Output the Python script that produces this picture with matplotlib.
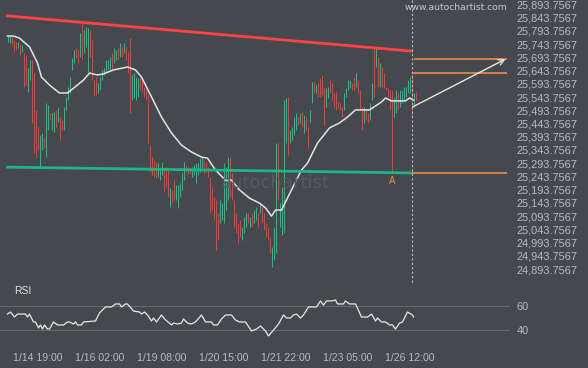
import matplotlib.pyplot as plt
from matplotlib.transforms import blended_transform_factory

# ---------------- data (hourly bars)

highs = [
    25774, 25774, 25770, 25759, 25751, 25751, 25744, 25740, 25710, 25702,
    25653, 25683, 25683, 25634, 25495, 25430, 25400, 25408, 25393, 25521,
    25514, 25483, 25483, 25487, 25495, 25506, 25468, 25457, 25506, 25544,
    25581, 25619, 25691, 25721, 25729, 25721, 25785, 25823, 25797, 25808,
    25804, 25797, 25759, 25608, 25619, 25597, 25619, 25646, 25653, 25683,
    25683, 25695, 25710, 25729, 25721, 25733, 25748, 25733, 25748, 25733,
    25714, 25766, 25627, 25634, 25619, 25615,
    25615, 25608, 25581, 25570, 25551, 25362, 25317, 25306, 25298, 25294,
    25279, 25298, 25268, 25279, 25268, 25200, 25193, 25230, 25211, 25211,
    25219, 25257, 25298, 25287, 25279, 25276, 25279, 25287, 25294, 25294,
    25313, 25317, 25306, 25298, 25279, 25242, 25204, 25166, 25155, 25106,
    25155, 25143, 25294, 25279, 25317, 25313, 25257, 25155, 25106, 25068,
    25079, 25053, 25091, 25106, 25106, 25091, 25106, 25117, 25128, 25106,
    25143, 25128, 25106, 25068,
    25053, 25015, 24977, 25053, 25370, 25370, 25143, 25204, 25532, 25540,
    25544, 25419, 25430, 25468, 25483, 25468, 25483, 25487, 25476, 25468,
    25430, 25495, 25600, 25600, 25589, 25597, 25615, 25627, 25581, 25578,
    25581, 25608, 25597, 25559, 25563, 25525, 25521,
    25506, 25559, 25578, 25608, 25608, 25597, 25619, 25634, 25608, 25570,
    25506, 25506, 25495, 25483, 25521, 25597, 25729, 25729, 25695, 25672,
    25657, 25634, 25581, 25578, 25570, 25570, 25544, 25570, 25559, 25570,
    25570, 25581, 25581, 25608, 25619, 25634, 25559, 25563,
]
lows = [
    25751, 25748, 25740, 25714, 25721, 25729, 25702, 25714, 25581, 25589,
    25563, 25608, 25446, 25332, 25317, 25344, 25279, 25344, 25351, 25317,
    25419, 25457, 25419, 25412, 25430, 25449, 25381, 25419, 25419, 25495,
    25532, 25559, 25646, 25672, 25691, 25672, 25695, 25683, 25710, 25733,
    25638, 25695, 25608, 25551, 25551, 25559, 25570, 25608, 25627, 25634,
    25646, 25646, 25646, 25672, 25683, 25683, 25695, 25695, 25710, 25683,
    25634, 25483, 25532, 25540, 25532, 25544,
    25570, 25563, 25544, 25532, 25370, 25260, 25249, 25242, 25238, 25242,
    25230, 25249, 25185, 25204, 25166, 25128, 25143, 25155, 25155, 25125,
    25166, 25193, 25230, 25260, 25253, 25257, 25242, 25249, 25219, 25249,
    25260, 25276, 25257, 25260, 25242, 25109, 25117, 25079, 24966, 25004,
    25068, 25079, 25068, 25117, 25155, 25166, 25155, 25053, 25030, 24992,
    25015, 25004, 25030, 25053, 25068, 25053, 25053, 25068, 25079, 25053,
    25106, 25068, 25041, 25015,
    25004, 24955, 24902, 24928, 24955, 25155, 25053, 25023, 25030, 25370,
    25325, 25370, 25381, 25400, 25419, 25438, 25446, 25430, 25408, 25419,
    25351, 25449, 25521, 25559, 25559, 25544, 25544, 25551, 25438, 25506,
    25540, 25559, 25532, 25506, 25495, 25502, 25495,
    25468, 25495, 25544, 25570, 25578, 25570, 25570, 25581, 25559, 25495,
    25419, 25446, 25457, 25446, 25457, 25532, 25544, 25657, 25581, 25581,
    25581, 25578, 25570, 25544, 25495, 25257, 25468, 25483, 25495, 25506,
    25521, 25532, 25544, 25559, 25559, 25468, 25506, 25532,
]
# g = up bar, r = down bar
direction = ("ggrrrgrgrr" "ggrrrrggrg" "grggrgrrgg" "ggggrrgrgg" "grrrrggggg"
             "ggrggrgrgr" "rrgggg"
             "rrrrrrrrrg" "ggrrrgrrgg" "gggrrrgggg" "ggrrrrrrrr" "gggggrrrrr"
             "rgggrgrggr" "grrr"
             "rrgggrgggg" "rggggrgrgr" "rggrgrrrrg" "grrrrrr"
             "rggggrrgrr" "rgrrggrgrg" "rrrrrrggrg" "gggggrgr")

# moving average (white line)
ma_idx = [0, 3, 6, 11, 15, 17, 21, 26, 30, 35, 38, 41, 45, 48, 53, 60, 64, 67,
          72, 77, 82, 87, 92, 97, 100, 104, 109, 112, 116, 121, 126, 129, 132,
          134, 137, 142, 147, 150, 155, 161, 166, 170, 174, 181, 187, 189, 192,
          199, 201, 203]
ma_val = [25774, 25774, 25766, 25733, 25672, 25619, 25589, 25559, 25559, 25589,
          25608, 25634, 25627, 25631, 25646, 25657, 25646, 25619, 25544, 25468,
          25408, 25362, 25336, 25317, 25313, 25268, 25230, 25230, 25193, 25162,
          25143, 25125, 25094, 25117, 25117, 25193, 25268, 25294, 25370, 25427,
          25446, 25468, 25495, 25495, 25525, 25540, 25529, 25529, 25540, 25532]

# RSI
rsi_idx = [0, 1.5, 3.5, 5, 9, 10, 11, 13, 14, 15.5, 16.5, 17.5, 18.5, 20, 21,
           23, 25, 28, 30, 31, 33, 34, 35, 37, 38, 44, 46, 49, 52, 54, 56, 57,
           59, 60, 63, 66, 67, 68.5, 70, 72, 73, 74.5, 77, 78.5, 82, 83, 85, 87,
           88, 90, 92, 94, 97, 99, 102, 103, 105, 107, 109, 112, 114, 116, 119,
           122, 124.5, 126.5, 129, 130.5, 133, 135.5, 138, 139.5, 141.5, 143,
           144.5, 146.5, 148, 150.5, 154.5, 156.5, 158, 159.5, 162, 164, 165,
           168, 169, 171, 174, 177, 180, 182, 184, 185, 187, 189, 191, 192.5,
           194, 196, 197.5, 200, 202.5, 203]
rsi_val = [53.3, 55.0, 50.8, 53.3, 53.3, 50.8, 53.3, 46.7, 46.7, 41.7, 44.2,
           40.8, 44.2, 40.8, 40.8, 46.7, 44.2, 44.2, 46.7, 46.7, 45.0, 46.7,
           44.2, 44.2, 46.7, 47.5, 54.2, 59.2, 59.2, 61.7, 61.7, 59.2, 61.7,
           61.7, 55.8, 55.0, 53.3, 55.0, 52.5, 47.5, 50.0, 46.7, 52.5, 49.2,
           44.2, 45.8, 45.0, 45.8, 49.2, 45.8, 45.0, 46.7, 52.5, 46.7, 46.7,
           44.2, 44.2, 49.2, 52.5, 52.5, 48.3, 46.7, 46.7, 39.2, 40.8, 43.3,
           39.2, 35.0, 40.0, 45.0, 52.5, 50.0, 50.0, 52.5, 53.3, 50.0, 52.5,
           59.2, 59.2, 64.2, 60.8, 64.2, 64.2, 65.0, 61.7, 61.7, 64.2, 61.7,
           61.7, 50.8, 50.8, 53.3, 47.5, 50.0, 46.7, 46.7, 44.2, 44.2, 40.8,
           45.8, 46.7, 55.0, 52.5, 50.8]

# triangle pattern
resist_val = [25850, 25717]
support_val = [25279, 25257]
pattern_end = 202
point_a = 192
target_levels = [25687, 25634]
arrow_from = 25506
arrow_to = 25687

time_ticks = [15, 46, 77, 108, 139, 170, 201]
time_labels = ['1/14 19:00', '1/16 02:00', '1/19 08:00', '1/20 15:00',
               '1/21 22:00', '1/23 05:00', '1/26 12:00']
price_ticks = [25893.7567 - 50 * k for k in range(21)]
rsi_ticks = [40, 60]

# ---------------- styling

bg = '#45484d'
txt = '#b8bbc0'
green = '#17c487'
red = '#f63a3a'
orange = '#f08a4a'
font = 'Liberation Sans'

W, H = 588, 368
fig = plt.figure(figsize=(W / 100, H / 100), dpi=100, facecolor=bg)

ax = fig.add_axes([0, (H - 285) / H, 510 / W, 285 / H])
rsi = fig.add_axes([0, (H - 350) / H, 510 / W, 65 / H])

# 2 px per hourly bar, bar centres on pixel centres
xmin, xmax = -3.75, 251.25
for a in (ax, rsi):
    a.set_facecolor(bg)
    for s in a.spines.values():
        s.set_visible(False)
    a.set_xlim(xmin, xmax)
    a.yaxis.tick_right()
    a.tick_params(axis='y', length=0, pad=5, labelsize=7.9, labelcolor=txt)

# main price panel
ax.set_ylim(24834, 25910)
ax.set_yticks(price_ticks)
ax.set_yticklabels([f'{v:,.4f}' for v in price_ticks], fontname=font)
ax.set_xticks([])

cols = [green if c == 'g' else red for c in direction]
ax.vlines(range(len(highs)), lows, highs, colors=cols, linewidth=0.72,
          zorder=2)
ax.plot(ma_idx, ma_val, color='#e4e4e4', lw=1.1, zorder=3)

ax.plot([0, pattern_end], resist_val, color='#ff4343', lw=2.0, zorder=4)
ax.plot([0, pattern_end], support_val, color='#1bb786', lw=2.0, zorder=4)

ax.hlines(support_val[-1], pattern_end, 249.5, color=orange, lw=1.2, zorder=4)
ax.hlines(target_levels[0], pattern_end + 1, 249.5, color=orange, lw=1.2, zorder=4)
ax.hlines(target_levels[1], pattern_end, 249.5, color=orange, lw=1.2, zorder=4)

ax.annotate('', xy=(249, arrow_to), xytext=(pattern_end + 0.5, arrow_from),
            arrowprops=dict(arrowstyle='->', color='#e6e6e6', lw=1.0,
                            mutation_scale=10, shrinkA=0, shrinkB=0), zorder=5)

ax.annotate('A', xy=(point_a + 0.5, support_val[-1]), xytext=(0, -2.5),
            textcoords='offset points', ha='center', va='top',
            color=orange, fontsize=7, fontname=font)

# watermark
fig.text(275 / W, 1 - 183 / H, 'autochartist', ha='center', va='center',
         fontsize=13, color='#55585e', zorder=0)
fig.text(507 / W, 1 - 7 / H, 'www.autochartist.com', ha='right', va='center',
         fontsize=6.6, color='#c5c8cc')

# rsi panel
rsi.set_ylim(23.33, 77.5)
rsi.set_yticks(rsi_ticks)
rsi.set_yticklabels([str(t) for t in rsi_ticks], fontname=font)
for t in rsi_ticks:
    rsi.axhline(t, color='#65686d', lw=0.8, zorder=1)
rsi.plot(rsi_idx, rsi_val, color='#e8e8e8', lw=0.9, zorder=3)
rsi.set_xticks(time_ticks)
rsi.set_xticklabels(time_labels, fontname=font)
rsi.tick_params(axis='x', length=0, pad=2.5, labelsize=7.6, labelcolor=txt)
fig.text(14 / W, 1 - 291 / H, 'RSI', ha='left', va='center', fontsize=7.5,
         color='#dcdcdc', fontname=font)

# dashed "now" line through both panels
tr = blended_transform_factory(ax.transData, fig.transFigure)
ax.plot([pattern_end, pattern_end], [1, 1 - 350 / H], transform=tr,
        color='#b9bcc1', lw=0.8, ls=(0, (2, 2)), clip_on=False, zorder=6)

fig.savefig('out.png', dpi=100, facecolor=bg)
